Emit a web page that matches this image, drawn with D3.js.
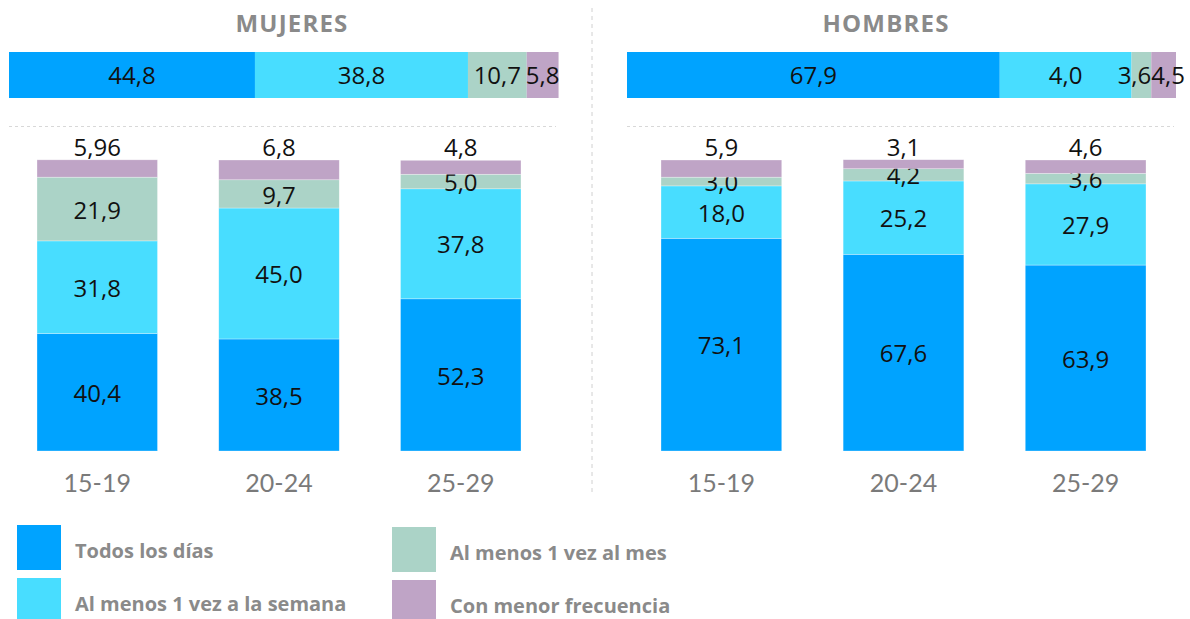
<!DOCTYPE html>
<html>
<head>
<meta charset="utf-8">
<script src="https://cdn.jsdelivr.net/npm/d3@7"></script>
<style>
  body { margin: 0; background: #fff; }
  svg { display: block; font-family: "Open Sans", "Noto Sans", sans-serif; }
</style>
</head>
<body>
<script>
// age groups and answer categories
var categories = ["15-19", "20-24", "25-29"];
var series = ["Todos los días", "Al menos 1 vez a la semana", "Al menos 1 vez al mes", "Con menor frecuencia"];
var keys = ["todos", "semana", "mes", "menor"];
var colors = ["#00a3ff", "#48ddff", "#abd3c7", "#bfa4c6"];

// overall bars
var mujTotal = [44.8, 38.8, 10.7, 5.8];
var homTotal = [67.9, 24.0, 3.6, 4.5];
var homTotalLabels = ["67,9", "4,0", "3,6", "4,5"];
var homTotalAnchor = ["middle", "middle", "end", "start"];

// by age, mujeres
var mujTodos = [40.4, 38.5, 52.3];
var mujSemana = [31.8, 45.0, 37.8];
var mujMes = [21.9, 9.7, 5.0];
var mujMenor = [5.96, 6.8, 4.8];

// by age, hombres
var homTodos = [73.1, 67.6, 63.9];
var homSemana = [18.0, 25.2, 27.9];
var homMes = [3.0, 4.2, 3.6];
var homMenor = [5.9, 3.1, 4.6];

function fmt(v) {
  var s = Math.abs(v * 10 - Math.round(v * 10)) < 1e-9 ? v.toFixed(1) : String(v);
  return s.replace(".", ",");
}

var svg = d3.select("body").append("svg")
  .attr("width", 1190)
  .attr("height", 619);

// separators
svg.append("line")
  .attr("x1", 592).attr("x2", 592).attr("y1", 8).attr("y2", 494)
  .attr("stroke", "#d0d0d0").attr("stroke-dasharray", "4,4");

var y = d3.scaleLinear().domain([0, 100]).range([451, 160]);

function panel(opts) {
  // title
  svg.append("text")
    .attr("x", opts.titleX).attr("y", 32)
    .attr("text-anchor", "middle")
    .attr("font-size", 24).attr("font-weight", 700)
    .attr("fill", "#8a8a8a")
    .attr("letter-spacing", 1.2)
    .text(opts.title);

  // overall horizontal bar
  var xt = d3.scaleLinear().domain([0, 100]).range(opts.topRange);
  var acc = 0;
  var segs = opts.total.map(function (v, i) {
    var s = { x0: acc, x1: acc + v, v: v, i: i,
      label: opts.totalLabels ? opts.totalLabels[i] : fmt(v),
      anchor: opts.totalAnchor ? opts.totalAnchor[i] : "middle" };
    acc += v;
    return s;
  });
  var g = svg.append("g");
  g.selectAll("rect").data(segs).enter().append("rect")
    .attr("x", function (d) { return xt(d.x0) })
    .attr("width", function (d) { return xt(d.x1) - xt(d.x0) })
    .attr("y", 52).attr("height", 46)
    .attr("fill", function (d) { return colors[d.i] });
  g.selectAll("text").data(segs).enter().append("text")
    .attr("x", function (d) {
      if (d.anchor === "end") return xt(d.x1);
      if (d.anchor === "start") return xt(d.x0);
      return (xt(d.x0) + xt(d.x1)) / 2;
    })
    .attr("y", 75).attr("dy", "0.36em")
    .attr("text-anchor", function (d) { return d.anchor })
    .attr("font-size", 24)
    .attr("fill", "#111")
    .text(function (d) { return d.label });

  svg.append("line")
    .attr("x1", opts.topRange[0]).attr("x2", opts.topRange[1] - 2)
    .attr("y1", 126.5).attr("y2", 126.5)
    .attr("stroke", "#d8d8d8").attr("stroke-dasharray", "3,3");

  // stacked columns
  var rows = categories.map(function (c, i) {
    return { cat: c, todos: opts.todos[i], semana: opts.semana[i], mes: opts.mes[i], menor: opts.menor[i] };
  });
  var stack = d3.stack().keys(keys)(rows);
  var x = d3.scaleBand().domain(categories).range(opts.barRange).paddingInner(0.337).paddingOuter(0);

  var layers = svg.append("g").selectAll("g").data(stack).enter().append("g")
    .attr("fill", function (d, i) { return colors[i] });
  layers.selectAll("rect").data(function (d) { return d }).enter().append("rect")
    .attr("x", function (d) { return x(d.data.cat) })
    .attr("width", x.bandwidth())
    .attr("y", function (d) { return y(d[1]) })
    .attr("height", function (d) { return y(d[0]) - y(d[1]) })
    .attr("stroke", "#fff").attr("stroke-width", 0.6).attr("stroke-opacity", 0.5);

  layers.selectAll("text").data(function (d, i) {
      return d.map(function (p) { return { p: p, last: i === keys.length - 1 } });
    }).enter().append("text")
    .attr("x", function (d) { return x(d.p.data.cat) + x.bandwidth() / 2 })
    .attr("y", function (d) { return d.last ? y(d.p[1]) - 4 : (y(d.p[0]) + y(d.p[1])) / 2 + 1 })
    .attr("dy", function (d) { return d.last ? 0 : "0.36em" })
    .attr("text-anchor", "middle")
    .attr("font-size", 24)
    .attr("fill", "#111")
    .text(function (d) { return fmt(+(d.p[1] - d.p[0]).toFixed(2)) });

  // category axis
  var axis = svg.append("g")
    .attr("transform", "translate(0,474)")
    .call(d3.axisBottom(x).tickSize(0).tickPadding(0));
  axis.select(".domain").remove();
  axis.selectAll("text")
    .attr("font-size", 25).attr("font-family", "Lato, sans-serif")
    .attr("fill", "#7a7a7a").attr("dy", "0.7em");
}

panel({
  title: "MUJERES", titleX: 292,
  total: mujTotal, topRange: [9, 558],
  barRange: [37, 521],
  todos: mujTodos, semana: mujSemana, mes: mujMes, menor: mujMenor
});

panel({
  title: "HOMBRES", titleX: 886,
  total: homTotal, totalLabels: homTotalLabels, totalAnchor: homTotalAnchor,
  topRange: [627, 1176],
  barRange: [661, 1146],
  todos: homTodos, semana: homSemana, mes: homMes, menor: homMenor
});

// legend
var legendPos = [[17, 525], [17, 578], [392, 527], [392, 580]];
var leg = svg.append("g").selectAll("g").data(series).enter().append("g")
  .attr("transform", function (d, i) { return "translate(" + legendPos[i][0] + "," + legendPos[i][1] + ")" });
leg.append("rect")
  .attr("width", 44).attr("height", 45)
  .attr("fill", function (d, i) { return colors[i] });
leg.append("text")
  .attr("x", 58).attr("y", 33)
  .attr("font-size", 20).attr("font-weight", 700)
  .attr("fill", "#8a8a8a")
  .text(function (d) { return d });
</script>
</body>
</html>
